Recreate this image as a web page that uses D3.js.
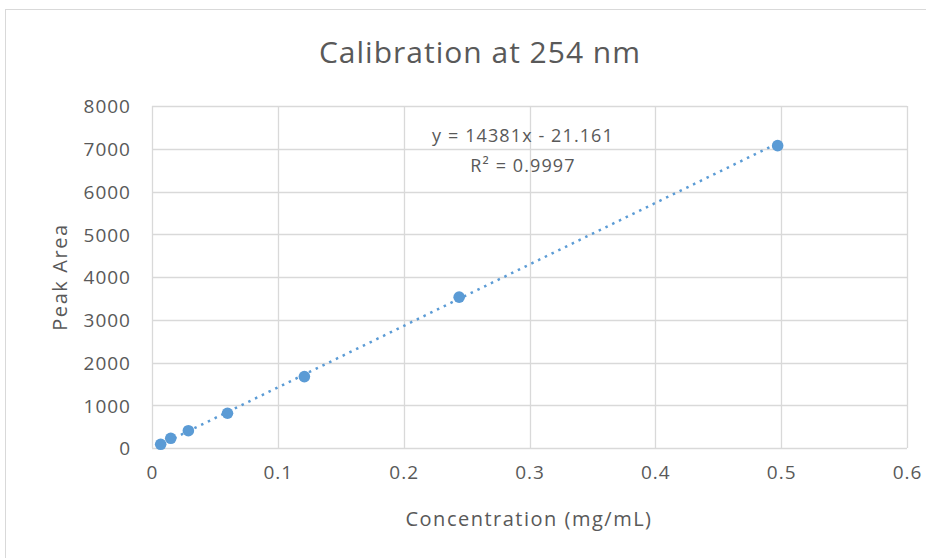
<!DOCTYPE html>
<html>
<head>
<meta charset="utf-8">
<script src="https://cdn.jsdelivr.net/npm/d3@7/dist/d3.min.js"></script>
<style>
  body { margin: 0; background: #fff; }
  text { font-family: "Open Sans", Lato, sans-serif; fill: #595959; }
</style>
</head>
<body>
<svg id="chart" width="926" height="558"></svg>
<script>
// calibration points
var concentration = [0.0069, 0.0149, 0.0289, 0.0600, 0.1211, 0.2441, 0.4972];
var peakArea = [87, 227, 405, 813, 1670, 3529, 7073];

// trendline as printed on the chart
var slope = 14381;
var intercept = -21.161;
var equationLabels = ['y = 14381x - 21.161', 'R\u00b2 = 0.9997'];

var xTicks = [0, 0.1, 0.2, 0.3, 0.4, 0.5, 0.6];
var yTicks = [0, 1000, 2000, 3000, 4000, 5000, 6000, 7000, 8000];

var plot = { left: 152, right: 907, top: 106, bottom: 448 };
var gridColor = '#d9d9d9';
var pointColor = '#5b9bd5';
var FONT = '"Open Sans", Lato, sans-serif';

var svg = d3.select('#chart');

// chart frame
svg.append('rect')
  .attr('x', 5.5)
  .attr('y', 9.5)
  .attr('width', 940)
  .attr('height', 570)
  .attr('fill', 'none')
  .attr('stroke', '#d9d9d9')
  .attr('stroke-width', 1);

var x = d3.scaleLinear().domain([0, 0.6]).range([plot.left, plot.right]);
var y = d3.scaleLinear().domain([0, 8000]).range([plot.bottom, plot.top]);

// gridlines
var grid = svg.append('g').attr('class', 'grid');

grid.selectAll('line.h').data(yTicks).enter().append('line')
  .attr('class', 'h')
  .attr('x1', plot.left)
  .attr('x2', plot.right)
  .attr('y1', function (d) { return Math.round(y(d)) + 0.5; })
  .attr('y2', function (d) { return Math.round(y(d)) + 0.5; })
  .attr('stroke', gridColor)
  .attr('stroke-width', 1.3);

grid.selectAll('line.v').data(xTicks).enter().append('line')
  .attr('class', 'v')
  .attr('y1', plot.top)
  .attr('y2', plot.bottom)
  .attr('x1', function (d) { return Math.round(x(d)) + 0.5; })
  .attr('x2', function (d) { return Math.round(x(d)) + 0.5; })
  .attr('stroke', gridColor)
  .attr('stroke-width', 1.3);

// axes (labels only, lines come from the grid)
var yAxis = svg.append('g')
  .attr('transform', 'translate(' + (plot.left - 21) + ',0)')
  .call(d3.axisLeft(y).tickValues(yTicks).tickSize(0).tickPadding(0).tickFormat(d3.format('d')));
yAxis.select('.domain').remove();
yAxis.selectAll('text')
  .attr('font-size', '19px')
  .attr('font-family', FONT)
  .attr('letter-spacing', '1px')
  .attr('fill', '#595959')
  .attr('dy', '0.36em');

var xAxis = svg.append('g')
  .attr('transform', 'translate(0,' + (plot.bottom + 17) + ')')
  .call(d3.axisBottom(x).tickValues(xTicks).tickSize(0).tickPadding(0).tickFormat(function (d) { return d3.format('')(+d.toFixed(1)); }));
xAxis.select('.domain').remove();
xAxis.selectAll('text')
  .attr('font-size', '19px')
  .attr('font-family', FONT)
  .attr('letter-spacing', '1px')
  .attr('fill', '#595959')
  .attr('dy', '0.71em');

// trendline over the data range
var xMin = d3.min(concentration), xMax = d3.max(concentration);
svg.append('line')
  .attr('x1', x(xMin))
  .attr('y1', y(slope * xMin + intercept))
  .attr('x2', x(xMax))
  .attr('y2', y(slope * xMax + intercept))
  .attr('stroke', pointColor)
  .attr('stroke-width', 2.5)
  .attr('stroke-dasharray', '2.5,5');

// data points
svg.append('g').selectAll('circle')
  .data(concentration.map(function (c, i) { return [c, peakArea[i]]; }))
  .enter().append('circle')
  .attr('cx', function (d) { return x(d[0]); })
  .attr('cy', function (d) { return y(d[1]); })
  .attr('r', 5.8)
  .attr('fill', pointColor);

// trendline label
svg.append('g').selectAll('text')
  .data(equationLabels)
  .enter().append('text')
  .attr('x', 523)
  .attr('y', function (d, i) { return 142 + i * 30; })
  .attr('text-anchor', 'middle')
  .attr('font-size', '18px')
  .attr('letter-spacing', '1.1px')
  .text(function (d) { return d; });

// title
svg.append('text')
  .attr('x', 480)
  .attr('y', 63)
  .attr('text-anchor', 'middle')
  .attr('font-size', '30px')
  .attr('letter-spacing', '1px')
  .text('Calibration at 254 nm');

// axis titles
svg.append('text')
  .attr('x', 529)
  .attr('y', 526)
  .attr('text-anchor', 'middle')
  .attr('font-size', '20px')
  .attr('letter-spacing', '1.5px')
  .text('Concentration (mg/mL)');

svg.append('text')
  .attr('transform', 'translate(67,277) rotate(-90)')
  .attr('text-anchor', 'middle')
  .attr('font-size', '20px')
  .attr('letter-spacing', '1.6px')
  .text('Peak Area');
</script>
</body>
</html>
